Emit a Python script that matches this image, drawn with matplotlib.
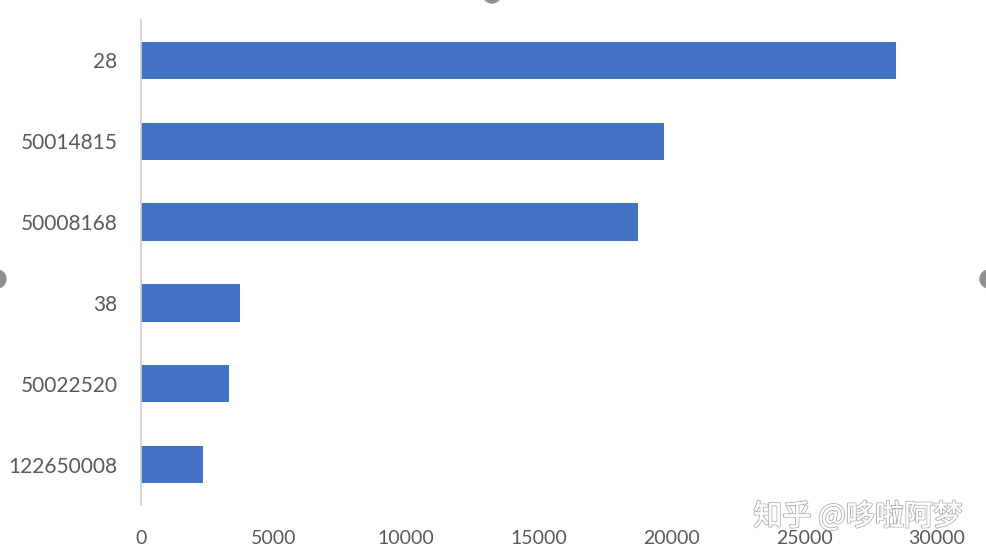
import matplotlib
matplotlib.use("Agg")
import matplotlib.pyplot as plt
import matplotlib.patheffects as pe
from matplotlib.patches import Ellipse

categories = ["122650008", "50022520", "38", "50008168", "50014815", "28"]
values = [2330, 3310, 3720, 18740, 19710, 28470]
xticks = [0, 5000, 10000, 15000, 20000, 25000, 30000]

W, H = 986, 558
fig = plt.figure(figsize=(W / 100, H / 100), dpi=100)
ax = fig.add_axes([141 / W, (H - 505) / H, (937 - 141) / W, (505 - 20) / H])

ax.barh(range(len(categories)), values, height=0.46, color="#4472C4")
ax.set_ylim(-0.5, len(categories) - 0.5)
ax.set_xlim(0, 30000)
ax.set_yticks(range(len(categories)))
ax.set_yticklabels(categories)
ax.set_xticks(xticks)
ax.set_xticklabels([str(t) for t in xticks])

for s in ["top", "right", "bottom"]:
    ax.spines[s].set_visible(False)
ax.spines["left"].set_color("#d0d0d0")
ax.spines["left"].set_linewidth(1.2)
ax.tick_params(axis="both", length=0, labelcolor="#595959")
ax.tick_params(axis="x", pad=18, labelsize=14)
ax.tick_params(axis="y", pad=17, labelsize=15)
for lbl in ax.get_xticklabels() + ax.get_yticklabels():
    lbl.set_fontfamily("Lato")

# selection handles
r = 9
for cx, cy in [(492, -6), (-3, 279), (989, 279)]:
    fig.patches.append(Ellipse((cx / W, 1 - cy / H), 2 * r / W, 2 * r / H,
                               transform=fig.transFigure, color="#8f8f8f", zorder=5))

wm = fig.text(962 / W, 1 - 517 / H, "知乎 @哆啦阿梦", ha="right", va="center",
              fontsize=21, color="white",
              family=["Noto Sans CJK SC", "DejaVu Sans"], zorder=10)
wm.set_path_effects([pe.withStroke(linewidth=1.4, foreground="#b0b0b0"), pe.Normal()])

fig.savefig("out.png", dpi=100)
